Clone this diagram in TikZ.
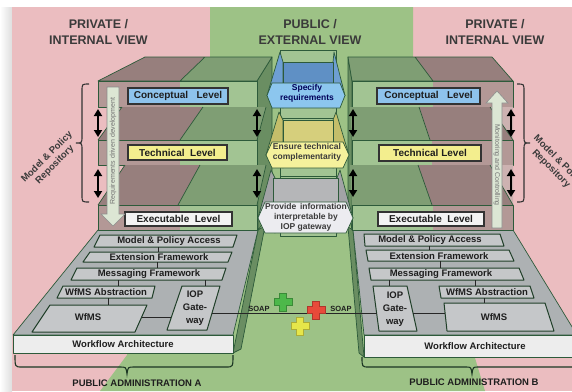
\documentclass[tikz,border=0pt]{standalone}
\usepackage{fontspec}
\setmainfont{Liberation Sans}
\usetikzlibrary{arrows.meta}
\definecolor{pinkbg}{HTML}{EBBDC0}
\definecolor{greenbg}{HTML}{9DC286}
\definecolor{edge}{HTML}{2D5A3A}
\definecolor{brownF}{HTML}{B39896}
\definecolor{brownT}{HTML}{977F7D}
\definecolor{brownS}{HTML}{CDB2B1}
\definecolor{greenF}{HTML}{A2C493}
\definecolor{greenT}{HTML}{7F9E74}
\definecolor{greenS}{HTML}{6A8E62}
\definecolor{grayP}{HTML}{ADB1B3}
\definecolor{grayB}{HTML}{C5C7C9}
\definecolor{wa}{HTML}{EDEDED}
\definecolor{lblue}{HTML}{8EC3EC}
\definecolor{lyellow}{HTML}{F3EE8E}
\definecolor{lwhite}{HTML}{F3F3F3}
\definecolor{txt}{HTML}{1E1E1E}
\definecolor{titlec}{HTML}{3A3A3A}
\definecolor{stripc}{HTML}{DCE6D4}
\definecolor{blueTop}{HTML}{5F90C5}
\definecolor{blueFlap}{HTML}{6E9FD2}
\definecolor{blueFront}{HTML}{8CC6EE}
\definecolor{yelTop}{HTML}{D6CF7C}
\definecolor{yelFlap}{HTML}{C4BE6A}
\definecolor{yelFront}{HTML}{F5F19C}
\definecolor{gryTop}{HTML}{B5B6B8}
\definecolor{gryFlap}{HTML}{A2A3A6}
\definecolor{gryFront}{HTML}{ECECF0}
\definecolor{plusG}{HTML}{4DB84A}
\definecolor{plusR}{HTML}{E84A3A}
\definecolor{plusY}{HTML}{E6E64A}
\begin{document}
\begin{tikzpicture}[x=1pt,y=-1pt,
  slab/.style={draw=edge,line width=0.7pt,line join=round},
  lvl/.style={draw=black!80,line width=1.1pt,inner sep=0pt,font=\fontsize{10}{12}\selectfont\bfseries,text=txt},
  ttl/.style={align=center,font=\fontsize{12.5}{16}\selectfont\bfseries,text=titlec},
  pbox/.style={draw=edge!70!black,line width=1pt,fill=grayB,line join=round},
  ptxt/.style={align=center,font=\fontsize{9.5}{13}\selectfont\bfseries,text=txt,inner sep=0pt},
  atxt/.style={align=center,font=\fontsize{8.5}{10}\selectfont\bfseries,inner sep=0pt},
  dbl/.style={{Triangle[width=8pt,length=7pt]}-{Triangle[width=8pt,length=7pt]},line width=1.8pt,black},
  conn/.style={draw=black!85,line width=1pt},
  brc/.style={draw=black!80,line width=1.1pt},
  blkarrow/.style={fill=stripc,draw=black!45,line width=0.6pt},
  stxt/.style={font=\fontsize{7}{8}\selectfont,text=black!55,inner sep=0pt},
  rtxt/.style={align=center,font=\fontsize{9.5}{11}\selectfont\bfseries,text=titlec,inner sep=0pt},
  soap/.style={font=\fontsize{7.5}{9}\selectfont\bfseries,text=txt,inner sep=0pt},
]
\useasboundingbox (0,0) rectangle (572,391);
\clip (0,0) rectangle (572,391);
% ---------- background ----------
\fill[white] (0,0) rectangle (572,391);
\shade[left color=white,right color=black!13] (0,7) rectangle (12,391);
\fill[pinkbg] (12,7) rectangle (572,391);
\fill[greenbg] (210,7) -- (413,7) -- (413,60) -- (475,358) -- (485,391) -- (100,391) -- (127,355) -- (210,60) -- cycle;
% ---------- titles ----------
\node[ttl] (tl) at (98.5,32) {PRIVATE /\\INTERNAL VIEW};
\node[ttl] (tm) at (310,32) {PUBLIC /\\EXTERNAL VIEW};
\node[ttl] (tr) at (495,32) {PRIVATE /\\INTERNAL VIEW};
% ---------- left platform ----------
\filldraw[slab,fill=greenS] (258,230) -- (265,226) -- (241,349) -- (233,353) -- cycle;
\filldraw[slab,fill=grayP] (98,230) -- (258,230) -- (233,335) -- (13,335) -- cycle;
\filldraw[slab,fill=wa] (13,335) rectangle (233,353);
\node[ptxt] (waA) at (123,344) {Workflow Architecture};
\draw[pbox] (100,235) -- (237,235) -- (233,247) -- (94,247) -- cycle;
\node[ptxt] (mpaA) at (169,241.5) {Model \& Policy Access};
\draw[pbox] (90,252) -- (232,252) -- (228,262) -- (83,262) -- cycle;
\node[ptxt] (efA) at (159,257) {Extension Framework};
\draw[pbox] (77,268) -- (226,268) -- (222,280) -- (71,280) -- cycle;
\node[ptxt] (mfA) at (149,274) {Messaging Framework};
\draw[pbox] (63,286) -- (155,286) -- (152,298) -- (57,298) -- cycle;
\node[ptxt] (waba) at (106,292) {WfMS Abstraction};
\draw[pbox] (50,305) -- (147,305) -- (135,332) -- (32,332) -- cycle;
\node[ptxt] (wfA) at (88,317) {WfMS};
\draw[pbox] (182,286) -- (220,286) -- (207,330) -- (167,330) -- cycle;
\node[ptxt] (iopA) at (195,308) {IOP\\Gate-\\way};
% ---------- right platform ----------
\filldraw[slab,fill=greenS] (348,227) -- (353,230) -- (364,357) -- (359,353) -- cycle;
\filldraw[slab,fill=grayP] (353,230) -- (513,230) -- (577,335) -- (364,335) -- cycle;
\filldraw[slab,fill=wa] (364,335) rectangle (580,357);
\node[ptxt] (waB) at (475,346) {Workflow Architecture};
\draw[pbox] (364,234) -- (500,234) -- (504,246) -- (365,246) -- cycle;
\node[ptxt] (mpaB) at (430,240) {Model \& Policy Access};
\draw[pbox] (366,250) -- (509,250) -- (514,261) -- (368,261) -- cycle;
\node[ptxt] (efB) at (439,256) {Extension Framework};
\draw[pbox] (369,268) -- (519,268) -- (524,280) -- (371,280) -- cycle;
\node[ptxt] (mfB) at (441,274) {Messaging Framework};
\draw[pbox] (373,286) -- (407,286) -- (417,331) -- (379,331) -- cycle;
\node[ptxt] (iopB) at (395,309) {IOP\\Gate-\\way};
\draw[pbox] (439,286) -- (530,286) -- (534,298) -- (441,298) -- cycle;
\node[ptxt] (wabb) at (487,292) {WfMS Abstraction};
\draw[pbox] (444,303) -- (545,303) -- (554,331) -- (447,331) -- cycle;
\node[ptxt] (wfB) at (494,317) {WfMS};
% ---------- connectors ----------
\coordinate (l1a) at (158,247); \coordinate (l1b) at (158,252);
\coordinate (l2a) at (157,262); \coordinate (l2b) at (157,268);
\coordinate (l3a) at (118,280); \coordinate (l3b) at (118,286);
\coordinate (l4a) at (205,280); \coordinate (l4b) at (205,286);
\coordinate (l5a) at (108,298); \coordinate (l5b) at (108,305);
\coordinate (l6a) at (141.5,317); \coordinate (l6b) at (171,317);
\coordinate (r1a) at (429,246); \coordinate (r1b) at (429,250);
\coordinate (r2a) at (440,261); \coordinate (r2b) at (440,268);
\coordinate (r3a) at (389,280); \coordinate (r3b) at (389,286);
\coordinate (r4a) at (475,280); \coordinate (r4b) at (475,286);
\coordinate (r5a) at (484,298); \coordinate (r5b) at (484,303);
\coordinate (r6a) at (413,313); \coordinate (r6b) at (445,313);
\coordinate (sA) at (212,313); \coordinate (sB) at (377,313);
\draw[conn] (l1a) -- (l1b); \draw[conn] (l2a) -- (l2b); \draw[conn] (l3a) -- (l3b);
\draw[conn] (l4a) -- (l4b); \draw[conn] (l5a) -- (l5b); \draw[conn] (l6a) -- (l6b);
\draw[conn] (r1a) -- (r1b); \draw[conn] (r2a) -- (r2b); \draw[conn] (r3a) -- (r3b);
\draw[conn] (r4a) -- (r4b); \draw[conn] (r5a) -- (r5b); \draw[conn] (r6a) -- (r6b);
\draw[conn] (sA) -- (sB);
% ---------- left stack ----------
\filldraw[slab,fill=greenS] (257,81) -- (272,57) -- (272,212) -- (258,230) -- cycle;
% L1
\fill[brownT] (98,81) -- (180,81) -- (205,57) -- (145,57) -- cycle;
\fill[greenT] (180,81) -- (257,81) -- (272,57) -- (205,57) -- cycle;
\draw[slab] (98,81) -- (257,81) -- (272,57) -- (145,57) -- cycle (180,81) -- (205,57);
\fill[brownF] (98,81) rectangle (180,107);
\fill[greenF] (180,81) rectangle (257,107);
\draw[slab] (98,81) rectangle (257,107);
% L2
\fill[brownT] (98,140) -- (180,140) -- (203,107) -- (122,107) -- cycle;
\fill[greenT] (180,140) -- (257,140) -- (266,107) -- (203,107) -- cycle;
\draw[slab] (98,140) -- (122,107) (180,140) -- (203,107) (257,140) -- (266,107);
\fill[brownF] (98,140) rectangle (180,165);
\fill[greenF] (180,140) rectangle (257,165);
\draw[slab] (98,140) rectangle (257,165);
% L3
\fill[brownT] (98,205) -- (178,205) -- (200,165) -- (125,165) -- cycle;
\fill[greenT] (178,205) -- (257,205) -- (266,165) -- (200,165) -- cycle;
\draw[slab] (98,205) -- (125,165) (178,205) -- (200,165) (257,205) -- (266,165);
\fill[brownF] (98,205) rectangle (180,230);
\fill[greenF] (180,205) rectangle (257,230);
\draw[slab] (98,205) rectangle (257,230);
% ---------- right stack ----------
\filldraw[slab,fill=greenS] (348,57) -- (352,81) -- (352,230) -- (348,210) -- cycle;
% L1
\fill[greenT] (352,81) -- (433,81) -- (415,57) -- (348,57) -- cycle;
\fill[brownT] (433,81) -- (513,81) -- (492,57) -- (415,57) -- cycle;
\draw[slab] (352,81) -- (513,81) -- (492,57) -- (348,57) -- cycle (433,81) -- (415,57);
\fill[greenF] (352,81) rectangle (433,107);
\fill[brownF] (433,81) rectangle (513,107);
\draw[slab] (352,81) rectangle (513,107);
% L2
\fill[greenT] (352,140) -- (430,140) -- (419,107) -- (350,107) -- cycle;
\fill[brownT] (430,140) -- (513,140) -- (490,107) -- (419,107) -- cycle;
\fill[brownS] (490,107) -- (513,107) -- (513,140) -- cycle;
\draw[slab] (430,140) -- (419,107) (513,140) -- (490,107);
\fill[greenF] (352,140) rectangle (432,165);
\fill[brownF] (432,140) rectangle (513,165);
\draw[slab] (352,140) rectangle (513,165);
% L3
\fill[greenT] (352,205) -- (432,205) -- (418,165) -- (350,165) -- cycle;
\fill[brownT] (432,205) -- (513,205) -- (490,165) -- (418,165) -- cycle;
\fill[brownS] (490,165) -- (513,165) -- (513,205) -- cycle;
\draw[slab] (432,205) -- (418,165) (513,205) -- (490,165);
\fill[greenF] (352,205) rectangle (433,230);
\fill[brownF] (433,205) rectangle (513,230);
\draw[slab] (352,205) rectangle (513,230);
% ---------- level labels ----------
\node[lvl,fill=lblue,minimum width=100pt,minimum height=16pt] (clA) at (178,96) {Conceptual~~~Level};
\node[lvl,fill=lyellow,minimum width=99pt,minimum height=15pt] (tlA) at (177.5,152.5) {Technical~~Level};
\node[lvl,fill=lwhite,minimum width=107pt,minimum height=14pt] (elA) at (178.5,219) {Executable~~Level};
\node[lvl,fill=lblue,minimum width=103pt,minimum height=16pt] (clB) at (428.5,96) {Conceptual~~~Level};
\node[lvl,fill=lyellow,minimum width=102pt,minimum height=16pt] (tlB) at (430,153) {Technical Level};
\node[lvl,fill=lwhite,minimum width=106pt,minimum height=14pt] (elB) at (431,219) {Executable~~Level};
% ---------- vertical block arrows ----------
\filldraw[blkarrow] (107,87) -- (119,87) -- (119,214) -- (125,214) -- (113,226) -- (101,214) -- (107,214) -- cycle;
\node[stxt,rotate=90] (req) at (113,151) {Requirements driven development};
\filldraw[blkarrow] (492,228) -- (502,228) -- (502,103) -- (508,103) -- (497,91) -- (486,103) -- (492,103) -- cycle;
\node[stxt,rotate=-90] (mon) at (497,165) {Monitoring and Controlling};
% ---------- double arrows ----------
\coordinate (da1) at (98,109); \coordinate (da2) at (98,137);
\coordinate (da3) at (98,169); \coordinate (da4) at (98,198);
\coordinate (db1) at (257,109); \coordinate (db2) at (257,137);
\coordinate (db3) at (257,169); \coordinate (db4) at (257,198);
\coordinate (dc1) at (353,109); \coordinate (dc2) at (353,137);
\coordinate (dc3) at (353,169); \coordinate (dc4) at (353,197);
\coordinate (dd1) at (511,109); \coordinate (dd2) at (511,137);
\coordinate (dd3) at (511,169); \coordinate (dd4) at (511,197);
\draw[dbl] (da1) -- (da2); \draw[dbl] (da3) -- (da4);
\draw[dbl] (db1) -- (db2); \draw[dbl] (db3) -- (db4);
\draw[dbl] (dc1) -- (dc2); \draw[dbl] (dc3) -- (dc4);
\draw[dbl] (dd1) -- (dd2); \draw[dbl] (dd3) -- (dd4);
% ---------- middle column ----------
\filldraw[slab,fill=greenF] (280,50) rectangle (336,236);
\draw[slab] (280,118) -- (336,118) (280,176) -- (336,176);
% blue
\filldraw[slab,fill=blueFlap] (267,95.5) -- (280,52) -- (283,62) -- (283,108) -- cycle;
\filldraw[slab,fill=blueFlap] (345,95.5) -- (334,52) -- (333,62) -- (333,108) -- cycle;
\filldraw[slab,fill=blueTop] (283,62) rectangle (333,83);
\filldraw[slab,fill=blueFront] (272,83) -- (340,83) -- (345,95.5) -- (340,108) -- (272,108) -- (267,95.5) -- cycle;
\node[atxt,text=blue!35!black] (spec) at (307,93) {Specify\\requirements};
% yellow
\filldraw[slab,fill=yelFlap] (266,155) -- (279,112) -- (283,120) -- (283,168) -- cycle;
\filldraw[slab,fill=yelFlap] (349,155) -- (336,112) -- (333,120) -- (333,168) -- cycle;
\filldraw[slab,fill=yelTop] (283,120) rectangle (333,142);
\filldraw[slab,fill=yelFront] (272,142) -- (343,142) -- (349,155) -- (343,168) -- (272,168) -- (266,155) -- cycle;
\node[atxt,text=titlec] (ens) at (307,152.5) {Ensure technical\\complementarity};
% gray
\filldraw[slab,fill=gryFlap] (258,218) -- (271,170) -- (275,178) -- (275,233) -- cycle;
\filldraw[slab,fill=gryFlap] (353,218) -- (340,170) -- (337,178) -- (337,233) -- cycle;
\filldraw[slab,fill=gryTop] (273,178) rectangle (338,202);
\filldraw[slab,fill=gryFront] (265,202) -- (346,202) -- (353,218) -- (346,233) -- (265,233) -- (258,218) -- cycle;
\node[atxt,text=titlec] (prov) at (306,217.5) {Provide\, information\\interpretable by\\IOP gateway};
% ---------- braces ----------
\draw[brc] (89,84) .. controls (82,84) .. (82,91) -- (82,136) .. controls (82,143) .. (76,143) .. controls (82,143) .. (82,150) -- (82,195) .. controls (82,202) .. (89,202);
\draw[brc] (517,84) .. controls (524,84) .. (524,91) -- (524,136) .. controls (524,143) .. (530,143) .. controls (524,143) .. (524,150) -- (524,195) .. controls (524,202) .. (517,202);
\node[rtxt,rotate=45] (repA) at (51,161) {Model \& Policy\\Repository};
\node[rtxt,rotate=-45] (repB) at (555,165) {Model \& Policy\\Repository};
\draw[brc,draw=edge!60!black] (15,355) .. controls (15,367) .. (22,367) -- (120,367) .. controls (126,367) .. (127,374) .. controls (128,367) .. (134,367) -- (226,367) .. controls (233,367) .. (233,355);
\draw[brc,draw=edge!60!black] (362,357) .. controls (362,367) .. (369,367) -- (466,367) .. controls (471,367) .. (472,374) .. controls (473,367) .. (478,367) -- (580,367);
\node[rtxt,text=txt] (paA) at (137,383) {PUBLIC ADMINISTRATION A};
\node[rtxt,text=txt] (paB) at (474,382) {PUBLIC ADMINISTRATION B};
% ---------- SOAP ----------
\node[soap] (soapA) at (259,309) {SOAP};
\node[soap] (soapB) at (341,309) {SOAP};
\filldraw[fill=plusG,draw=plusG!75!black,line width=0.5pt,shift={(283,302)}] (-3.5,-9) -- (3.5,-9) -- (3.5,-3.5) -- (9,-3.5) -- (9,3.5) -- (3.5,3.5) -- (3.5,9) -- (-3.5,9) -- (-3.5,3.5) -- (-9,3.5) -- (-9,-3.5) -- (-3.5,-3.5) -- cycle;
\filldraw[fill=plusR,draw=plusR!75!black,line width=0.5pt,shift={(316,310)}] (-3.5,-9) -- (3.5,-9) -- (3.5,-3.5) -- (9,-3.5) -- (9,3.5) -- (3.5,3.5) -- (3.5,9) -- (-3.5,9) -- (-3.5,3.5) -- (-9,3.5) -- (-9,-3.5) -- (-3.5,-3.5) -- cycle;
\filldraw[fill=plusY,draw=plusY!75!black,line width=0.5pt,shift={(300,326)}] (-3.5,-9) -- (3.5,-9) -- (3.5,-3.5) -- (9,-3.5) -- (9,3.5) -- (3.5,3.5) -- (3.5,9) -- (-3.5,9) -- (-3.5,3.5) -- (-9,3.5) -- (-9,-3.5) -- (-3.5,-3.5) -- cycle;
\end{tikzpicture}
\end{document}
